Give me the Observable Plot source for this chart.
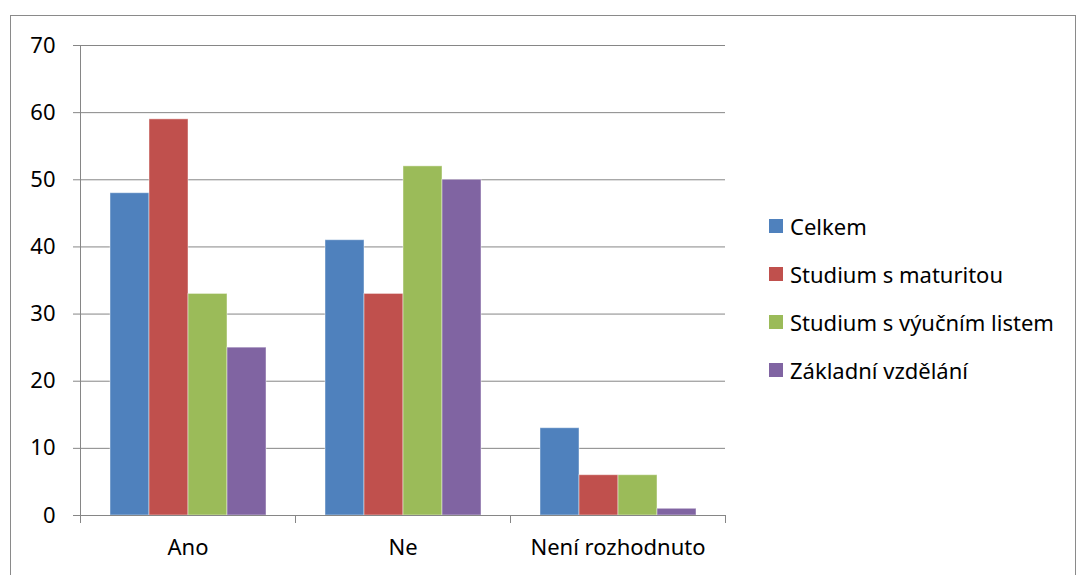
<!DOCTYPE html>
<html>
<head>
<meta charset="utf-8">
<script src="https://cdn.jsdelivr.net/npm/d3@7"></script>
<script src="https://cdn.jsdelivr.net/npm/@observablehq/plot@0.6"></script>
<style>
  html, body { margin: 0; padding: 0; background: #fff; overflow: hidden; width: 1080px; height: 575px; }
  #wrap { position: relative; width: 1080px; height: 575px; font-family: "Noto Sans", sans-serif; }
  #border { position: absolute; left: 10px; top: 15px; width: 1066px; height: 620px; border: 1px solid #8a8a8a; box-sizing: border-box; }
  #chart { position: absolute; left: 0; top: 0; }
  #legend { position: absolute; left: 769px; top: 202px; }
  .item { display: flex; align-items: center; height: 48px; }
  .sw { width: 14px; height: 14px; margin-right: 7px; flex: none; }
  .lab { font-size: 22px; color: #000; white-space: nowrap; }
</style>
</head>
<body>
<div id="wrap">
  <div id="border"></div>
  <div id="chart"></div>
  <div id="legend"></div>
</div>
<script>
const categories = ["Ano", "Ne", "Není rozhodnuto"];
const series = ["Celkem", "Studium s maturitou", "Studium s výučním listem", "Základní vzdělání"];
const celkem = [48, 41, 13];
const maturita = [59, 33, 6];
const vyucni = [33, 52, 6];
const zakladni = [25, 50, 1];
const colors = ["#4F81BD", "#C0504D", "#9BBB59", "#8064A2"];
const yTicks = [0, 10, 20, 30, 40, 50, 60, 70];

const seriesValues = [celkem, maturita, vyucni, zakladni];
const data = [];
categories.forEach((c, ci) => {
  series.forEach((s, si) => {
    data.push({category: c, series: s, value: seriesValues[si][ci]});
  });
});

const grid = "#868686";
const chart = Plot.plot({
  width: 1080,
  height: 575,
  marginLeft: 79,
  marginRight: 354,
  marginTop: 45,
  marginBottom: 60,
  style: {fontFamily: "Noto Sans", fontSize: "22px", color: "#000", background: "transparent", overflow: "visible"},
  fx: {domain: categories, padding: 0, label: null},
  x: {domain: series, paddingInner: 0, paddingOuter: 0.75, axis: null},
  y: {domain: [0, 70], label: null},
  color: {domain: series, range: colors},
  marks: [
    Plot.ruleY(yTicks.slice(1), {stroke: grid, strokeWidth: 1}),
    Plot.barY(data, {fx: "category", x: "series", y: "value", fill: "series", stroke: "white", strokeOpacity: 0.45, strokeWidth: 1}),
    Plot.ruleY([0], {stroke: grid, strokeWidth: 1}),
    Plot.frame({anchor: "left", facetAnchor: "left", stroke: grid}),
    Plot.frame({anchor: "left", stroke: grid, insetTop: 470, insetBottom: -7}),
    Plot.frame({anchor: "right", facetAnchor: "right", stroke: grid, insetTop: 470, insetBottom: -7}),
    Plot.axisY({ticks: yTicks, tickSize: 7, tickPadding: 18, fontSize: 22, stroke: grid, fill: "#000", label: null}),
    Plot.axisFx({anchor: "bottom", tickSize: 0, tickPadding: 24, fontSize: 22, fill: "#000", label: null})
  ]
});
document.getElementById("chart").appendChild(chart);

const legend = document.getElementById("legend");
series.forEach((s, i) => {
  const item = document.createElement("div");
  item.className = "item";
  const sw = document.createElement("div");
  sw.className = "sw";
  sw.style.background = colors[i];
  const lab = document.createElement("span");
  lab.className = "lab";
  lab.textContent = s;
  item.appendChild(sw);
  item.appendChild(lab);
  legend.appendChild(item);
});
</script>
</body>
</html>
